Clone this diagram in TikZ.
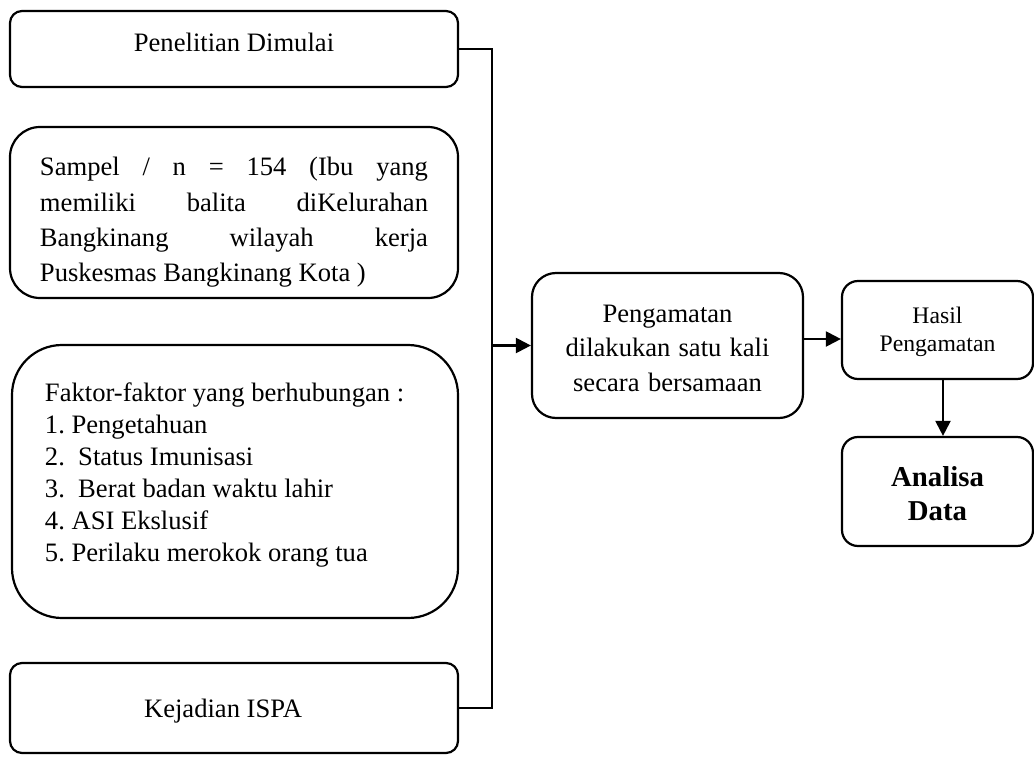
\documentclass[tikz,border=0pt]{standalone}
\usepackage{fontspec}
\setmainfont{Liberation Serif}
\usetikzlibrary{arrows,arrows.meta,positioning}
\frenchspacing

\begin{document}
\begin{tikzpicture}[x=0.5bp,y=-0.5bp,line width=1.1bp,
        >={Triangle[length=7.5bp,width=7.5bp]},
        kotak/.style={draw,rounded corners=6bp,inner sep=0pt,
            font=\fontsize{13.3bp}{17.5bp}\selectfont,
            execute at begin node={\spaceskip=0pt\xspaceskip=0pt\relax}}]

        \useasboundingbox (0,0) rectangle (1034,757);

        \node[kotak,minimum width=224bp,minimum height=38bp,
            text height=9bp,text depth=7bp] (mulai) at (234,49) {Penelitian Dimulai};

        \node[kotak,rounded corners=15bp,minimum width=224bp,minimum height=85.5bp,
            text width=194bp,align=left,text height=10bp,text depth=46.5bp] (sampel) at (234,212.5)
            {\makebox[194bp][s]{Sampel / n = 154 (Ibu yang}\\
             \makebox[194bp][s]{memiliki balita diKelurahan}\\
             \makebox[194bp][s]{Bangkinang wilayah kerja}\\
             Puskesmas Bangkinang Kota )};

        \node[kotak,rounded corners=25bp,minimum width=223bp,minimum height=136.5bp,
            font=\fontsize{13.3bp}{15.9bp}\selectfont,
            text width=190bp,align=left,text height=10bp,text depth=89.5bp] (faktor) at (235,481.5)
            {Faktor-faktor yang berhubungan :\\
             1. Pengetahuan\\
             2.\ \ Status Imunisasi\\
             3.\ \ Berat badan waktu lahir\\
             4. ASI Ekslusif\\
             5. Perilaku merokok orang tua};

        \node[kotak,minimum width=224bp,minimum height=45bp,
            text height=10bp,text depth=1bp] (kejadian) at (234,708) {\hspace*{-11bp}Kejadian ISPA};

        \node[kotak,rounded corners=12bp,minimum width=135.5bp,minimum height=72.5bp,
            font=\fontsize{13.3bp}{17.25bp}\selectfont,
            text width=125bp,align=center,text height=10bp,text depth=33.5bp] (pengamatan) at (667.5,345.5)
            {Pengamatan\\ dilakukan satu kali\\ secara bersamaan};

        \node[kotak,rounded corners=8bp,minimum width=95.5bp,minimum height=49bp,
            font=\fontsize{11.85bp}{14bp}\selectfont,
            text width=85bp,align=center,text height=9bp,text depth=16bp] (hasil) at (937.5,330)
            {Hasil\\ Pengamatan};

        \node[kotak,rounded corners=8bp,minimum width=95.5bp,minimum height=54.5bp,
            font=\fontsize{14.4bp}{17bp}\selectfont\bfseries,
            text width=85bp,align=center,text height=10bp,text depth=15.5bp] (analisa) at (937.5,491.5)
            {Analisa\\ Data};

        \coordinate (bus) at (492,345.5);

        \draw (mulai.east) -| (bus) |- (kejadian.east);

        \path[->]
        (bus) edge (pengamatan.west)
        ([yshift=3.25bp]pengamatan.east) edge ([yshift=3.25bp]pengamatan.east -| hasil.west)
        ([xshift=2.75bp]hasil.south) edge ([xshift=2.75bp]analisa.north);

    \end{tikzpicture}
\end{document}
